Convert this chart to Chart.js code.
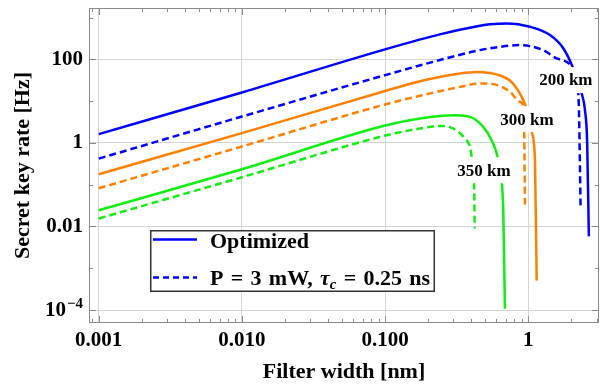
<!DOCTYPE html>
<html><head><meta charset="utf-8">
<script src="https://cdn.jsdelivr.net/npm/chart.js@4.4.0/dist/chart.umd.min.js"></script>
<style>html,body{margin:0;padding:0;background:#fff;}#wrap{width:602px;height:386px;}</style>
</head><body><div id="wrap"><canvas id="c" width="602" height="386"></canvas></div>
<script>
const FONT = '"Liberation Serif", "Times New Roman", serif';

// ---- axis ticks ----
const xTickValues = [0.001, 0.01, 0.1, 1];
const xTickLabels = ['0.001', '0.010', '0.100', '1'];
const yTickValues = [1e-4, 0.01, 1, 100];
const yTickLabels = ['10^\u22124', '0.01', '1', '100'];
const xRange = [8.55e-4, 3.12];
const yRange = [4.9e-5, 1690];

// ---- 200 km ----
const width200Opt = [0.001, 0.01, 0.1, 0.241, 0.46, 0.54, 0.71, 1.03, 1.42, 1.76, 2.04, 2.36, 2.49, 2.58, 2.65];
const rate200Opt  = [1.62, 16.1, 173, 395, 634, 690, 724, 600, 380, 182, 66, 15.3, 6.07, 0.97, 0.0058];
const width200Fix = [0.001, 0.01, 0.1, 0.241, 0.46, 0.634, 0.875, 1.27, 1.58, 2.01, 2.23, 2.26, 2.32];
const rate200Fix  = [0.42, 4.27, 41.8, 96, 166, 199, 219, 166, 105, 66, 16.6, 6.1, 0.029];
// ---- 300 km ----
const width300Opt = [0.001, 0.01, 0.1, 0.175, 0.333, 0.436, 0.54, 0.634, 0.745, 0.84, 0.90, 0.96, 1.056, 1.114, 1.145];
const rate300Opt  = [0.178, 1.71, 17.5, 30, 46, 50, 47, 41, 31, 19, 12.6, 7.6, 1.83, 0.385, 0.00051];
const width300Fix = [0.001, 0.01, 0.1, 0.175, 0.333, 0.46, 0.57, 0.745, 0.875, 0.925, 0.937, 0.949];
const rate300Fix  = [0.082, 0.82, 8.3, 13.4, 21.9, 26.5, 25.5, 16.7, 9.6, 7.6, 1.83, 0.029];
// ---- 350 km ----
const width350Opt = [0.001, 0.01, 0.1, 0.175, 0.308, 0.392, 0.485, 0.555, 0.611, 0.652, 0.669, 0.687];
const rate350Opt  = [0.0244, 0.234, 2.6, 3.84, 4.6, 4.2, 2.42, 1.16, 0.46, 0.116, 0.0244, 0.000108];
const width350Fix = [0.001, 0.01, 0.1, 0.127, 0.175, 0.241, 0.299, 0.361, 0.392, 0.403, 0.418, 0.423];
const rate350Fix  = [0.0155, 0.151, 1.5, 1.8, 2.2, 2.55, 2.21, 1.27, 0.80, 0.46, 0.116, 0.0089];

// ---- annotations ----
const distanceLabels = ['200 km', '300 km', '350 km'];
const distanceLabelWidth = [1.83, 0.98, 0.49];
const distanceLabelRate = [31.8, 3.7, 0.222];
const legendLabels = ['Optimized', 'P = 3 mW,', '\u03C4', 'c', '= 0.25 ns'];

const BLUE = '#0000ff', ORANGE = '#ff8000', GREEN = '#11ee11';
function pts(xs, ys) { return xs.map((x, i) => ({x: x, y: ys[i]})); }
function ds(label, xs, ys, color, dashed) {
  return {label: label, data: pts(xs, ys), borderColor: color, backgroundColor: color,
    borderWidth: 2.5, borderDash: dashed ? [7, 4] : [], pointRadius: 0, fill: false,
    cubicInterpolationMode: 'monotone'};
}
const datasets = [
  ds('200 km opt', width200Opt, rate200Opt, BLUE, false),
  ds('200 km fixed', width200Fix, rate200Fix, BLUE, true),
  ds('300 km opt', width300Opt, rate300Opt, ORANGE, false),
  ds('300 km fixed', width300Fix, rate300Fix, ORANGE, true),
  ds('350 km opt', width350Opt, rate350Opt, GREEN, false),
  ds('350 km fixed', width350Fix, rate350Fix, GREEN, true)
];

function logTicks(min, max) {
  const out = [];
  for (let e = Math.floor(Math.log10(min)); e <= Math.ceil(Math.log10(max)); e++) {
    for (let m = 1; m < 10; m++) {
      const v = m * Math.pow(10, e);
      if (v >= min && v <= max) out.push({v: v, major: m === 1});
    }
  }
  return out;
}

// draw words with a bit of extra word spacing
function drawWords(ctx, text, x, y, extra) {
  const words = text.split(' ');
  const sp = ctx.measureText(' ').width + extra;
  words.forEach((w, i) => {
    ctx.fillText(w, x, y);
    x += ctx.measureText(w).width + (i < words.length - 1 ? sp : 0);
  });
  return x;
}

const framePlugin = {
  id: 'frame',
  afterDraw(chart) {
    const ctx = chart.ctx, a = chart.chartArea;
    const xs = chart.scales.x, ys = chart.scales.y;
    ctx.save();
    // frame
    ctx.strokeStyle = '#8a8a8a'; ctx.lineWidth = 1;
    ctx.strokeRect(Math.round(a.left) + 0.5, Math.round(a.top) + 0.5, Math.round(a.right - a.left) - 1, Math.round(a.bottom - a.top) - 1);
    ctx.beginPath();
    logTicks(xRange[0], xRange[1]).forEach(t => {
      const px = Math.round(xs.getPixelForValue(t.v)) + 0.5;
      const len = t.major ? 7 : 4;
      ctx.moveTo(px, a.bottom); ctx.lineTo(px, a.bottom - len);
      ctx.moveTo(px, a.top); ctx.lineTo(px, a.top + len);
    });
    logTicks(yRange[0], yRange[1]).filter(t => t.major).forEach(t => {
      const e = Math.round(Math.log10(t.v));
      const major = e % 2 === 0;
      const py = Math.round(ys.getPixelForValue(t.v)) + 0.5;
      const len = major ? 7 : 4;
      ctx.moveTo(a.left, py); ctx.lineTo(a.left + len, py);
      ctx.moveTo(a.right, py); ctx.lineTo(a.right - len, py);
    });
    ctx.stroke();

    // power-of-ten tick labels (base + superscript)
    ctx.fillStyle = '#000'; ctx.textBaseline = 'middle'; ctx.textAlign = 'right';
    yTickLabels.forEach((t, i) => {
      if (t.indexOf('^') < 0) return;
      const [base, exp] = t.split('^');
      const py = ys.getPixelForValue(yTickValues[i]);
      const right = a.left - 6;
      ctx.font = 'bold 15px ' + FONT;
      const ew = ctx.measureText(exp).width;
      ctx.fillText(exp, right, py - 6);
      ctx.font = 'bold 21px ' + FONT;
      ctx.fillText(base, right - ew - 1, py + 1);
    });

    // distance labels
    ctx.font = 'bold 17px ' + FONT;
    ctx.textAlign = 'center'; ctx.textBaseline = 'middle';
    distanceLabels.forEach((t, i) => {
      const px = xs.getPixelForValue(distanceLabelWidth[i]);
      const py = ys.getPixelForValue(distanceLabelRate[i]);
      const w = ctx.measureText(t).width + 6;
      ctx.fillStyle = '#fff';
      ctx.fillRect(px - w / 2, py - 13, w, 26);
      ctx.fillStyle = '#000';
      ctx.fillText(t, px, py + 1);
    });

    // legend
    const lx = 150, ly = 230, lw = 285, lh = 62;
    ctx.fillStyle = '#fff';
    ctx.fillRect(lx, ly, lw, lh);
    ctx.strokeStyle = '#333'; ctx.lineWidth = 1.5;
    ctx.strokeRect(lx + 0.75, ly + 0.75, lw - 1.5, lh - 1.5);
    ctx.strokeStyle = BLUE; ctx.lineWidth = 2.5;
    ctx.setLineDash([]);
    ctx.beginPath(); ctx.moveTo(153, 239.5); ctx.lineTo(197, 239.5); ctx.stroke();
    ctx.setLineDash([6, 4]);
    ctx.beginPath(); ctx.moveTo(153, 277.5); ctx.lineTo(197, 277.5); ctx.stroke();
    ctx.setLineDash([]);
    ctx.fillStyle = '#000'; ctx.textAlign = 'left'; ctx.textBaseline = 'alphabetic';
    ctx.font = 'bold 22px ' + FONT;
    ctx.fillText(legendLabels[0], 210, 247.5);
    const extra = 1.8;
    let x = drawWords(ctx, legendLabels[1], 210, 285, extra);
    x += ctx.measureText(' ').width + extra;
    ctx.font = 'italic bold 22px ' + FONT;
    ctx.fillText(legendLabels[2], x, 285); x += ctx.measureText(legendLabels[2]).width;
    ctx.font = 'italic bold 15px ' + FONT;
    ctx.fillText(legendLabels[3], x, 289); x += ctx.measureText(legendLabels[3]).width;
    ctx.font = 'bold 22px ' + FONT;
    x += ctx.measureText(' ').width + extra;
    drawWords(ctx, legendLabels[4], x, 285, extra);
    ctx.restore();
  }
};

new Chart(document.getElementById('c'), {
  type: 'line',
  data: {datasets: datasets},
  options: {
    responsive: false, animation: false, devicePixelRatio: 1,
    layout: {padding: {top: 8, right: 3, left: 0, bottom: 0}},
    plugins: {legend: {display: false}, tooltip: {enabled: false}},
    scales: {
      x: {
        type: 'logarithmic', min: xRange[0], max: xRange[1],
        afterBuildTicks: s => { s.ticks = xTickValues.map(v => ({value: v})); },
        afterFit: s => { s.height = 63; s.paddingLeft = 0; s.paddingRight = 0; },
        ticks: {callback: (v, i) => xTickLabels[i], font: {family: FONT, size: 21, weight: 'bold'},
                color: '#000', padding: 5, maxRotation: 0, autoSkip: false},
        grid: {color: '#d4d4d4', lineWidth: 1, drawTicks: false},
        border: {display: false},
        title: {display: true, text: 'Filter width [nm]', color: '#000',
                font: {family: FONT, size: 22, weight: 'bold'}, padding: {top: 0, bottom: 0}}
      },
      y: {
        type: 'logarithmic', min: yRange[0], max: yRange[1],
        afterBuildTicks: s => { s.ticks = yTickValues.map(v => ({value: v})); },
        afterFit: s => { s.width = 89; s.paddingTop = 0; s.paddingBottom = 0; },
        ticks: {callback: (v, i) => (yTickLabels[i].indexOf('^') < 0 ? yTickLabels[i] : ''),
                font: {family: FONT, size: 21, weight: 'bold'},
                color: '#000', padding: 6, autoSkip: false},
        grid: {color: '#d4d4d4', lineWidth: 1, drawTicks: false},
        border: {display: false},
        title: {display: true, text: 'Secret key rate [Hz]', color: '#000',
                font: {family: FONT, size: 22, weight: 'bold'}, padding: {top: 10, bottom: 0}}
      }
    }
  },
  plugins: [framePlugin]
});
</script>
</body></html>
